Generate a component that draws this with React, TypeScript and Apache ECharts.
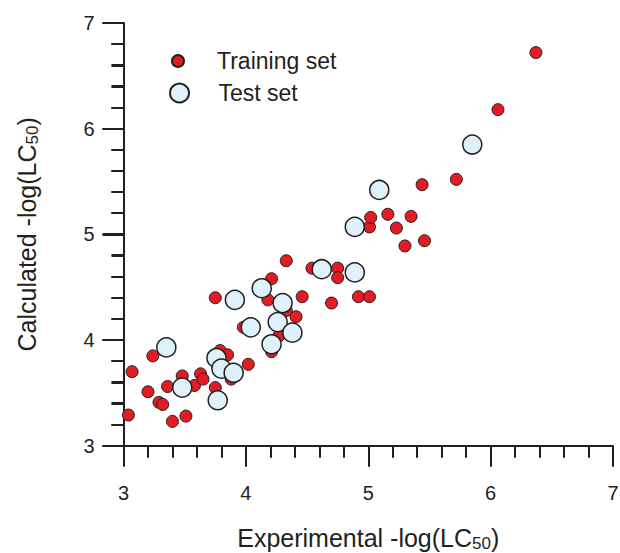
import React, { useEffect, useRef } from "react";
import * as echarts from "echarts";

const trainingX = [3.04, 3.07, 3.2, 3.24, 3.29, 3.32, 3.36, 3.4, 3.51, 3.48, 3.58, 3.63, 3.65, 3.75, 3.75, 3.79, 3.85, 3.88, 4.02, 3.98, 4.18, 4.21, 4.33, 4.33, 4.41, 4.46, 4.27, 4.21, 4.54, 4.7, 4.75, 4.75, 4.92, 5.01, 5.01, 5.02, 5.16, 5.35, 5.23, 5.3, 5.46, 5.44, 5.72, 6.06, 6.37];
const trainingY = [3.29, 3.7, 3.51, 3.85, 3.41, 3.39, 3.56, 3.23, 3.28, 3.66, 3.57, 3.68, 3.63, 4.4, 3.55, 3.9, 3.86, 3.63, 3.77, 4.12, 4.38, 4.58, 4.75, 4.28, 4.22, 4.41, 4.04, 3.89, 4.68, 4.35, 4.68, 4.59, 4.41, 4.41, 5.07, 5.16, 5.19, 5.17, 5.06, 4.89, 4.94, 5.47, 5.52, 6.18, 6.72];
const testX = [3.35, 3.48, 3.76, 3.8, 3.77, 3.9, 3.91, 4.04, 4.13, 4.21, 4.26, 4.3, 4.38, 4.62, 4.89, 4.89, 5.09, 5.85];
const testY = [3.93, 3.55, 3.83, 3.73, 3.43, 3.69, 4.38, 4.12, 4.49, 3.96, 4.17, 4.35, 4.07, 4.67, 4.64, 5.07, 5.42, 5.85];
const axisTicks = [3, 4, 5, 6, 7];
const minorPerMajor = 5;

const INK = "#231f20";
const FONT = "'Liberation Sans', Arial, Helvetica, sans-serif";

function makeAxis(name: string, labelMargin: number, nameGap: number) {
  return {
    type: "value",
    min: axisTicks[0],
    max: axisTicks[axisTicks.length - 1],
    interval: 1,
    axisLine: { show: true, onZero: false, lineStyle: { color: INK, width: 2 } },
    axisTick: { show: true, length: 21, lineStyle: { color: INK, width: 2, opacity: 1 } },
    minorTick: { show: true, splitNumber: minorPerMajor, length: 12, lineStyle: { color: INK, width: 2, opacity: 1 } },
    splitLine: { show: false },
    minorSplitLine: { show: false },
    axisLabel: { show: true, color: INK, fontSize: 20, fontFamily: FONT, margin: labelMargin },
    name,
    nameLocation: "middle",
    nameGap,
    nameMoveOverlap: false,
    nameTextStyle: {
      rich: {
        a: { fontSize: 25, fontFamily: FONT, color: INK, lineHeight: 28 },
        sub: { fontSize: 17, fontFamily: FONT, color: INK, lineHeight: 17, verticalAlign: "bottom" },
      },
    },
  };
}

export default function App() {
  const ref = useRef<HTMLDivElement>(null);
  useEffect(() => {
    if (!ref.current) return;
    const chart = echarts.init(ref.current, undefined, { renderer: "svg" });
    const training = trainingX.map((x, i) => [x, trainingY[i]]);
    const test = testX.map((x, i) => [x, testY[i]]);
    // y-axis tick positions (major = 1, minor = 0), placed through the y scale
    const yTickData: number[][] = [];
    for (let i = 0; i < axisTicks.length; i++) {
      yTickData.push([axisTicks[0], axisTicks[i], 1]);
      if (i < axisTicks.length - 1) {
        const step = (axisTicks[i + 1] - axisTicks[i]) / minorPerMajor;
        for (let k = 1; k < minorPerMajor; k++) yTickData.push([axisTicks[0], axisTicks[i] + k * step, 0]);
      }
    }
    const legendText = { fontSize: 23, fontFamily: FONT, color: INK, lineHeight: 24 };
    chart.setOption({
      animation: false,
      backgroundColor: "#ffffff",
      grid: { left: 123.5, right: 7, top: 23, bottom: 107.3, outerBoundsMode: "none" },
      legend: [
        { data: ["Training set"], orient: "vertical", left: 171, top: 49, padding: 0, itemWidth: 68, itemHeight: 12, icon: "circle", textStyle: legendText },
        { data: ["Test set"], orient: "vertical", left: 169, top: 81, padding: 0, itemWidth: 68, itemHeight: 19, icon: "circle", textStyle: legendText },
      ],
      xAxis: makeAxis("{a|Experimental -log(LC}{sub|50}{a|)}", 37, 78),
      yAxis: makeAxis("{a|Calculated -log(LC}{sub|50}{a|)}", 29, 83),
      series: [
        {
          name: "yTicks",
          type: "custom",
          data: yTickData,
          encode: { x: 0, y: 1 },
          clip: false,
          silent: true,
          z: 10,
          renderItem: (_params: any, api: any) => {
            const p = api.coord([api.value(0), api.value(1)]);
            const len = api.value(2) === 1 ? 21 : 12;
            const y = Math.round(p[1]);
            return {
              type: "line",
              shape: { x1: p[0] - len, y1: y, x2: p[0], y2: y },
              style: { stroke: INK, lineWidth: 2 },
            };
          },
        },
        {
          name: "Training set",
          type: "scatter",
          data: training,
          symbol: "circle",
          symbolSize: 12,
          clip: false,
          itemStyle: { color: "#e31b23", borderColor: INK, borderWidth: 1, opacity: 1 },
          z: 2,
        },
        {
          name: "Test set",
          type: "scatter",
          data: test,
          symbol: "circle",
          symbolSize: 19,
          clip: false,
          itemStyle: { color: "#dff1fb", borderColor: INK, borderWidth: 1.5, opacity: 1 },
          z: 3,
        },
      ],
    });
    return () => chart.dispose();
  }, []);
  return <div ref={ref} style={{ width: 620, height: 553, position: "absolute", left: 0, top: 0 }} />;
}
